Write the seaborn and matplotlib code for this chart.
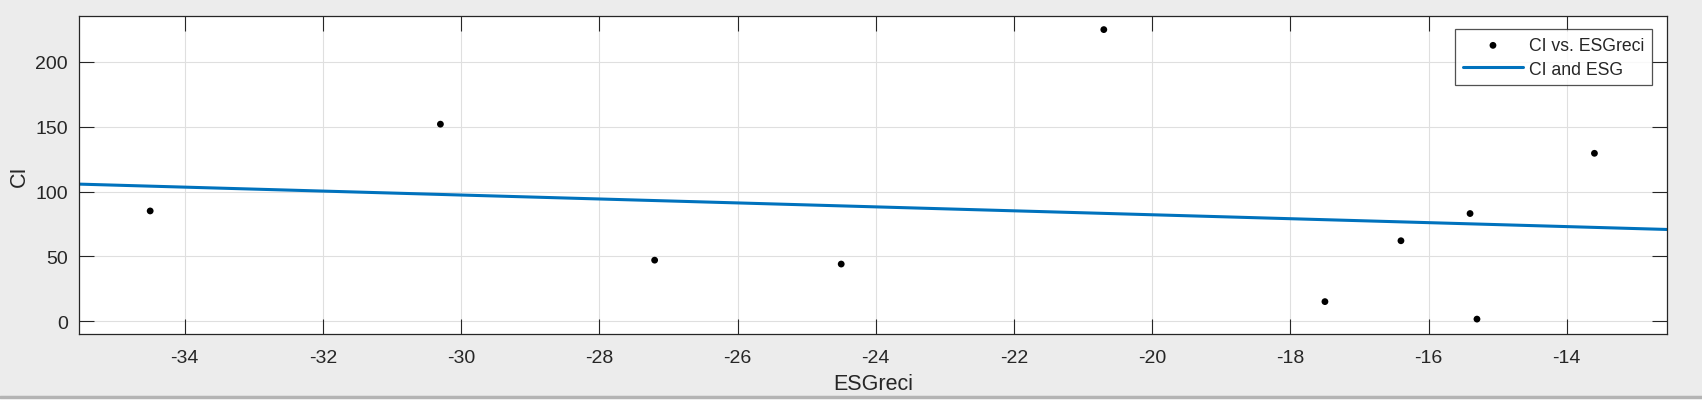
import numpy as np
import pandas as pd
import matplotlib
matplotlib.use("Agg")
import matplotlib.pyplot as plt
import seaborn as sns

# values
esg_reci = [-34.5, -30.3, -27.2, -24.5, -20.7, -17.5, -16.4, -15.4, -15.3, -13.6]
ci = [85, 152, 47, 44, 225, 15, 62, 83, 1.5, 129.5]
x_ticks = [-34, -32, -30, -28, -26, -24, -22, -20, -18, -16, -14]
y_ticks = [0, 50, 100, 150, 200]

df = pd.DataFrame({"ESGreci": esg_reci, "CI": ci})

sns.set_style("white")
plt.rcParams["font.family"] = ["Liberation Sans", "DejaVu Sans"]
plt.rcParams["axes.unicode_minus"] = False

fig = plt.figure(figsize=(17.02, 4.02), dpi=100, facecolor="#ececec")
ax = fig.add_axes([79 / 1702, 1 - 335 / 402, (1667 - 79) / 1702, (335 - 17) / 402])
ax.set_facecolor("white")
ax.set_xlim(-35.53, -12.55)
ax.set_ylim(-10, 235.5)

grid_c = "#dfdfdf"
for t in x_ticks:
    ax.axvline(t, color=grid_c, lw=0.8, zorder=0)
for t in y_ticks:
    ax.axhline(t, color=grid_c, lw=0.8, zorder=0)

sns.scatterplot(data=df, x="ESGreci", y="CI", ax=ax, color="black", s=24,
                edgecolor="none", label="CI vs. ESGreci", zorder=3)
sns.regplot(data=df, x="ESGreci", y="CI", ax=ax, scatter=False, ci=None,
            truncate=False, color="#0072BD", line_kws={"lw": 2.2},
            label="CI and ESG")
ax.set_xlim(-35.53, -12.55)
ax.set_ylim(-10, 235.5)

ax.set_xticks(x_ticks)
ax.set_yticks(y_ticks)
ax.tick_params(direction="in", length=11, width=0.8, color="#262626",
               bottom=True, left=True, top=True, right=True,
               labelsize=14, labelcolor="#262626")
ax.tick_params(axis="x", pad=11)
ax.tick_params(axis="y", pad=8)
for s in ax.spines.values():
    s.set_color("#262626")
    s.set_linewidth(0.9)

ax.set_xlabel("ESGreci", fontsize=15.5, color="#262626", labelpad=5)
ax.set_ylabel("CI", fontsize=15.5, color="#262626", labelpad=4)

leg = ax.legend(loc="upper right", bbox_to_anchor=(0.9905, 0.959),
                borderaxespad=0, fontsize=12.7,
                frameon=True, fancybox=False, edgecolor="#262626",
                borderpad=0.45, handlelength=3.36, handletextpad=0.34,
                labelspacing=0.37)
leg.get_frame().set_linewidth(0.9)

# window border line at the bottom
fig.add_artist(plt.Line2D([0, 1], [4.5 / 402, 4.5 / 402], color="#b4b4b4", lw=2.5,
                          transform=fig.transFigure))
fig.patches.append(plt.Rectangle((0, 0), 1, 3.5 / 402, transform=fig.transFigure,
                                 facecolor="white", edgecolor="none"))

fig.savefig("out.png", dpi=100, facecolor=fig.get_facecolor())
